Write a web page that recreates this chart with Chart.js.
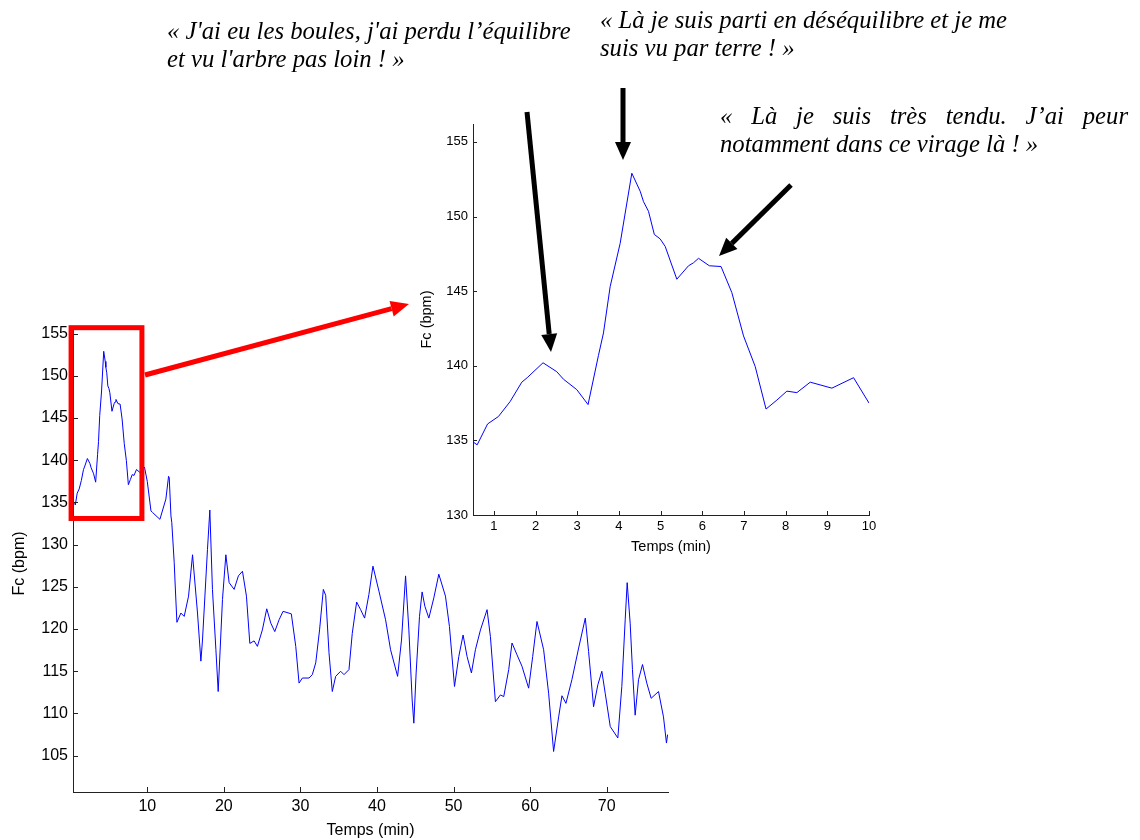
<!DOCTYPE html>
<html>
<head>
<meta charset="utf-8">
<script src="https://cdn.jsdelivr.net/npm/chart.js@4"></script>
<style>
  html, body { margin: 0; padding: 0; background: #fff; }
  #page { position: relative; width: 1140px; height: 840px; overflow: hidden; }
  #page canvas { position: absolute; }
  .quote {
    position: absolute;
    font-family: "Liberation Serif", "Times New Roman", serif;
    font-style: italic;
    font-size: 24.7px;
    line-height: 28px;
    color: #000;
    white-space: nowrap;
  }
  .just { text-align: justify; text-align-last: justify; white-space: normal; }
</style>
</head>
<body>
<div id="page">
  <canvas id="mainChart" width="700" height="530" style="left:0;top:310px"></canvas>
  <canvas id="zoomChart" width="500" height="450" style="left:400px;top:110px"></canvas>
  <canvas id="marks" width="1140" height="840" style="left:0;top:0"></canvas>
  <div class="quote" style="left:167px;top:17px">« J'ai eu les boules, j'ai perdu l’équilibre<br>et vu l'arbre pas loin ! »</div>
  <div class="quote" style="left:600px;top:6px">« Là je suis parti en déséquilibre et je me<br>suis vu par terre ! »</div>
  <div class="quote just" style="left:720px;top:102px;width:408px">« Là je suis très tendu. J’ai peur</div>
  <div class="quote" style="left:720px;top:130px">notamment dans ce virage là ! »</div>
</div>
<script>
// first 10 minutes (shown in the zoomed inset too)
const zoomTime = [0.5, 0.6, 0.85, 1.11, 1.39, 1.67, 1.8, 2.18, 2.51, 2.67, 2.99, 3.26, 3.51, 3.63, 3.79,
  4.03, 4.31, 4.51, 4.59, 4.71, 4.85, 4.99, 5.11, 5.39, 5.67, 5.79, 5.91, 6.17, 6.45, 6.71, 6.99,
  7.27, 7.53, 7.79, 8.03, 8.27, 8.59, 9.11, 9.63, 10.0];
const zoomFc = [134.9, 134.7, 136.1, 136.6, 137.6, 138.9, 139.2, 140.2, 139.6, 139.1, 138.4, 137.4, 140.7, 142.2, 145.3,
  148.2, 152.9, 151.7, 151.0, 150.35, 148.8, 148.5, 148.0, 145.8, 146.7, 146.9, 147.2, 146.7, 146.65, 144.9, 142.0,
  139.95, 137.1, 137.7, 138.3, 138.2, 138.9, 138.5, 139.2, 137.5];

// rest of the ride
const laterTime = [10.48, 10.7, 11.65, 12.43, 12.78, 12.87, 13.09, 13.2, 13.52, 13.65, 13.87, 14.39, 14.82, 15.39, 15.91,
  16.56, 17.0, 17.21, 17.86, 18.17, 18.51, 18.96, 19.26, 19.82, 20.26, 20.69, 21.34, 21.9, 22.43, 22.95,
  23.39, 23.95, 24.38, 25.03, 25.6, 26.13, 26.65, 27.21, 27.73, 28.81, 29.39, 29.82, 30.25, 31.12, 31.55,
  32.0, 32.5, 32.99, 33.3, 33.73, 34.16, 34.6, 35.25, 35.69, 36.34, 36.77, 37.34, 37.86, 38.38, 38.94,
  39.47, 40.25, 41.12, 41.77, 42.69, 43.2, 43.73, 44.16, 44.59, 44.81, 45.11, 45.55, 45.89, 46.25, 46.77,
  47.42, 48.07, 48.94, 49.46, 50.12, 50.68, 51.24, 51.76, 52.33, 52.85, 53.51, 54.37, 54.81, 55.46, 56.12,
  56.55, 57.2, 57.63, 58.28, 58.93, 59.8, 60.33, 60.89, 61.76, 62.41, 63.06, 63.72, 64.15, 64.67, 65.45,
  66.33, 67.2, 67.63, 68.28, 68.84, 69.36, 69.8, 70.46, 71.45, 71.97, 72.41, 72.67, 73.06, 73.36, 73.71,
  74.15, 74.67, 75.23, 75.8, 76.76, 77.41, 77.8, 77.95];
const laterFc = [134.0, 133.8, 133.0, 135.4, 138.1, 137.9, 133.4, 132.6, 127.85, 125.1, 120.8, 121.9, 121.5, 123.9, 128.8,
  121.9, 116.2, 118.7, 129.4, 134.1, 124.7, 117.55, 112.6, 123.5, 128.8, 125.5, 124.7, 126.3, 126.85, 123.9,
  118.3, 118.6, 117.95, 119.9, 122.4, 120.7, 119.7, 121.1, 122.1, 121.8, 117.95, 113.6, 114.2, 114.2, 114.6,
  116.0, 119.9, 124.7, 124.0, 117.2, 112.6, 114.4, 115.0, 114.6, 115.2, 119.5, 123.2, 122.3, 121.3, 124.1,
  127.45, 124.5, 121.1, 117.55, 114.4, 118.7, 126.3, 119.9, 111.6, 108.85, 114.8, 121.5, 124.4, 122.7, 121.3,
  123.7, 126.5, 123.9, 120.3, 113.2, 116.75, 119.3, 116.75, 114.8, 117.55, 119.9, 122.3, 119.1, 111.4, 112.2,
  112.0, 115.2, 118.35, 116.95, 115.6, 113.0, 116.75, 120.9, 117.55, 112.4, 105.5, 109.6, 112.1, 111.2, 114.0,
  117.75, 121.3, 117.35, 110.8, 113.4, 115.0, 112.4, 108.45, 107.1, 113.2, 121.1, 125.5, 120.7, 115.2, 109.8,
  114.0, 115.8, 113.6, 111.8, 112.6, 109.6, 106.5, 107.5];

const mainXTicks = [10, 20, 30, 40, 50, 60, 70];
const mainYTicks = [105, 110, 115, 120, 125, 130, 135, 140, 145, 150, 155];
const zoomXTicks = [1, 2, 3, 4, 5, 6, 7, 8, 9, 10];
const zoomYTicks = [130, 135, 140, 145, 150, 155];

// red box on the main chart that marks the zoomed part (data units)
const boxX = [0.05, 9.3];
const boxY = [133.1, 155.7];

Chart.defaults.font.family = "'Liberation Sans', Arial, sans-serif";
Chart.defaults.color = "#000";

const toPoints = (xs, ys) => xs.map((x, i) => ({ x: x, y: ys[i] }));

// MATLAB style ticks, pointing into the plot
const inwardTicks = {
  id: "inwardTicks",
  afterDatasetsDraw(chart, args, opts) {
    const { ctx, chartArea, scales: { x, y } } = chart;
    const len = opts.length || 5;
    ctx.save();
    ctx.strokeStyle = "#222";
    ctx.lineWidth = 1;
    ctx.beginPath();
    x.ticks.forEach(t => {
      const px = Math.round(x.getPixelForValue(t.value)) + 0.5;
      ctx.moveTo(px, chartArea.bottom);
      ctx.lineTo(px, chartArea.bottom - len);
    });
    y.ticks.forEach(t => {
      const py = Math.round(y.getPixelForValue(t.value)) + 0.5;
      ctx.moveTo(chartArea.left, py);
      ctx.lineTo(chartArea.left + len, py);
    });
    ctx.stroke();
    ctx.restore();
  }
};

const zoomBox = {
  id: "zoomBox",
  afterDatasetsDraw(chart, args, opts) {
    if (!opts.show) return;
    const { ctx, scales: { x, y } } = chart;
    const x0 = x.getPixelForValue(boxX[0]), x1 = x.getPixelForValue(boxX[1]);
    const y0 = y.getPixelForValue(boxY[1]), y1 = y.getPixelForValue(boxY[0]);
    ctx.save();
    ctx.strokeStyle = "#ff0000";
    ctx.lineWidth = 5;
    ctx.strokeRect(x0, y0, x1 - x0, y1 - y0);
    ctx.restore();
  }
};

function axisOptions(o) {
  return {
    type: "linear",
    min: o.min,
    max: o.max,
    grid: { display: false, drawTicks: false },
    border: { display: true, color: "#222", width: 1 },
    afterBuildTicks: scale => { scale.ticks = o.ticks.map(v => ({ value: v })); },
    afterFit: scale => {
      if (o.width) scale.width = o.width;
      if (o.height) scale.height = o.height;
    },
    ticks: { autoSkip: false, maxRotation: 0, padding: o.tickPad, font: { size: o.tickSize }, color: "#000" },
    title: { display: true, text: o.title, font: { size: o.titleSize }, color: "#000", padding: o.titlePad }
  };
}

function makeChart(id, points, o) {
  return new Chart(document.getElementById(id), {
    type: "line",
    data: {
      datasets: [{
        data: points,
        borderColor: "#0000ff",
        borderWidth: 1,
        pointRadius: 0,
        tension: 0,
        fill: false
      }]
    },
    options: {
      responsive: false,
      animation: false,
      events: [],
      layout: { padding: o.padding },
      plugins: {
        legend: { display: false },
        tooltip: { enabled: false },
        inwardTicks: { length: o.tickLen },
        zoomBox: { show: o.box }
      },
      scales: { x: o.x, y: o.y }
    },
    plugins: [inwardTicks, zoomBox]
  });
}

// whole ride
makeChart("mainChart", toPoints(zoomTime.concat(laterTime), zoomFc.concat(laterFc)), {
  padding: { left: 0, top: 16, right: 32, bottom: 0 },
  tickLen: 5,
  box: true,
  x: axisOptions({ min: 0.3, max: 78, ticks: mainXTicks, height: 48, tickPad: 5, tickSize: 16,
    title: "Temps (min)", titleSize: 16, titlePad: { top: 0, bottom: 0 } }),
  y: axisOptions({ min: 100.7, max: 155.9, ticks: mainYTicks, width: 73, tickPad: 5, tickSize: 16,
    title: "Fc (bpm)  ", titleSize: 16, titlePad: { top: 10, bottom: 0 } })
});

// zoom on the first 10 minutes
makeChart("zoomChart", toPoints(zoomTime, zoomFc), {
  padding: { left: 0, top: 14, right: 31, bottom: 0 },
  tickLen: 4,
  box: false,
  x: axisOptions({ min: 0.5, max: 10, ticks: zoomXTicks, height: 45, tickPad: 4, tickSize: 13,
    title: "Temps (min)", titleSize: 14.5, titlePad: { top: 0, bottom: 4 } }),
  y: axisOptions({ min: 130, max: 156.2, ticks: zoomYTicks, width: 73, tickPad: 5, tickSize: 13,
    title: "Fc (bpm)", titleSize: 14.5, titlePad: { top: 18, bottom: 0 } })
});

// annotation arrows
const marks = document.getElementById("marks").getContext("2d");
function arrow(x1, y1, x2, y2, color) {
  const ang = Math.atan2(y2 - y1, x2 - x1);
  const headLen = 18, headHalf = 8;
  const bx = x2 - headLen * Math.cos(ang), by = y2 - headLen * Math.sin(ang);
  marks.save();
  marks.strokeStyle = color;
  marks.fillStyle = color;
  marks.lineWidth = 5;
  marks.beginPath();
  marks.moveTo(x1, y1);
  marks.lineTo(bx, by);
  marks.stroke();
  marks.beginPath();
  marks.moveTo(x2, y2);
  marks.lineTo(bx + headHalf * Math.sin(ang), by - headHalf * Math.cos(ang));
  marks.lineTo(bx - headHalf * Math.sin(ang), by + headHalf * Math.cos(ang));
  marks.closePath();
  marks.fill();
  marks.restore();
}
arrow(145, 375, 409, 304, "#ff0000");
arrow(527, 112, 551, 352, "#000");
arrow(623, 88, 623, 160, "#000");
arrow(791, 185, 719, 256, "#000");
</script>
</body>
</html>
